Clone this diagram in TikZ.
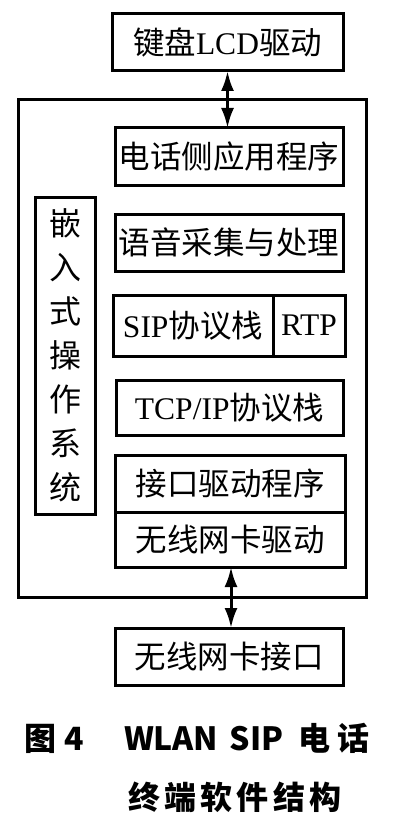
\documentclass[tikz,border=0pt]{standalone}
\usepackage{fontspec}
\setmainfont{Liberation Serif}
\newfontfamily\zhfont{Noto Sans CJK SC}
\newfontfamily\capfont{Noto Sans CJK SC}
\newfontfamily\capwide[LetterSpace=13]{Noto Sans CJK SC}
\newcommand{\zh}[1]{{\zhfont #1}}
\usetikzlibrary{arrows.meta, positioning}

\begin{document}
\begin{tikzpicture}[x=1pt, y=-1pt,
    box/.style={draw, line width=3pt, rectangle, minimum width=228pt, minimum height=57pt, inner sep=0pt, outer sep=0pt, font=\fontsize{31.5}{36}\selectfont},
    link/.style={line width=3pt, {Latex[length=20pt,width=13pt]}-{Latex[length=20pt,width=13pt]}},
    caption/.style={anchor=west, font=\capfont\bfseries\fontsize{32}{38}\selectfont}]
    \useasboundingbox (0,0) rectangle (400,824);

    % outside the device
    \node[box, minimum width=231pt] (kbd) at (227.5,42.5) {\zh{键盘}LCD\zh{驱动}};
    \node[box] (nic) at (229,656.5) {\zh{无线网卡接口}};

    % device frame
    \node[box, minimum width=348pt, minimum height=497pt] (dev) at (192,348.5) {};
    \node[box, minimum width=60pt, minimum height=317pt, align=center, font=\zhfont\fontsize{32}{44}\selectfont] (os) at (65,355.5) {嵌\\入\\式\\操\\作\\系\\统};

    % software stack
    \node[box] (app) at (229,156.5) {\zh{电话侧应用程序}};
    \node[box] (voice) at (229,242.5) {\zh{语音采集与处理}};
    \node[box, minimum width=160pt, minimum height=61pt] (sip) at (193,325.5) {SIP\zh{协议栈}};
    \node[box, minimum width=72pt, minimum height=61pt, right=0pt of sip] (rtp) {RTP};
    \node[box, minimum width=227pt, minimum height=55pt] (tcp) at (229.5,407.5) {TCP/IP\zh{协议栈}};
    \node[box, minimum width=230pt] (ifdrv) at (230,483.5) {\zh{接口驱动程序}};
    \node[box, minimum width=230pt, minimum height=55pt, below=0pt of ifdrv] (wdrv) {\zh{无线网卡驱动}};

    \draw[link] (kbd.south) -- (kbd.south |- app.north);
    \draw[link] ([xshift=1pt]wdrv.south) -- ([xshift=1pt]wdrv.south |- nic.north);

    % caption
    \node[caption] (cap1) at (21,738) {图\hspace{8pt}4\hspace{40pt}WLAN\hspace{4pt} SIP\hspace{8pt} 电\hspace{7pt}话};
    \node[caption, font=\capwide\bfseries\fontsize{32}{38}\selectfont] (cap2) at (125,797) {终端软件结构};
\end{tikzpicture}
\end{document}
